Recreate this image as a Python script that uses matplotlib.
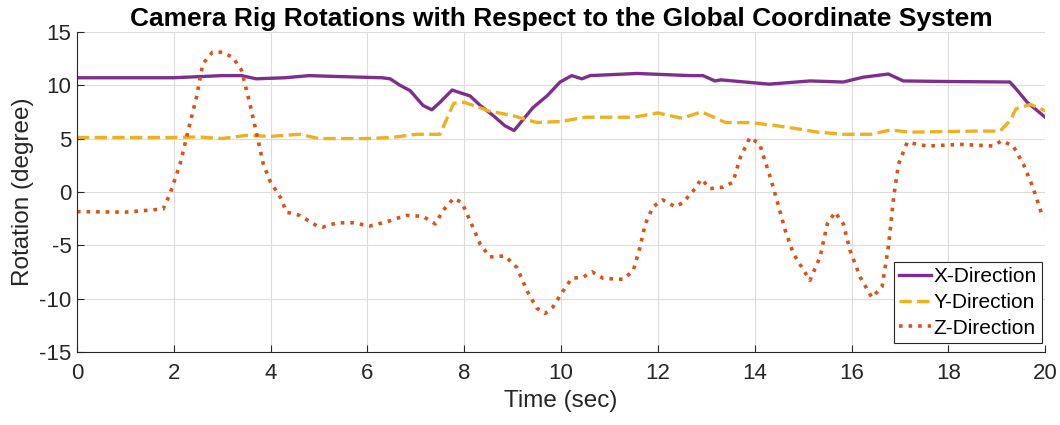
import matplotlib.pyplot as plt
import numpy as np

plt.rcParams['font.family'] = ['Liberation Sans', 'DejaVu Sans']
plt.rcParams['axes.unicode_minus'] = False

# values
x_t = [0, 1, 2, 2.5, 3.0, 3.4, 3.7, 4.3, 4.8, 5.5, 6.3, 6.47, 6.67, 6.88, 7.15, 7.33,
       7.5, 7.75, 7.91, 8.12, 8.33, 8.6, 8.84, 9.03, 9.22, 9.42, 9.71, 9.98, 10.22,
       10.43, 10.6, 11.57, 12.67, 12.93, 13.18, 13.3, 14.3, 15.14, 15.83, 16.24,
       16.76, 17.07, 17.9, 19.27, 19.4, 19.63, 20.0]
x_rot = [10.7, 10.7, 10.7, 10.8, 10.9, 10.9, 10.6, 10.7, 10.9, 10.8, 10.7, 10.6, 10.0,
         9.5, 8.1, 7.7, 8.4, 9.55, 9.3, 9.0, 8.1, 7.15, 6.2, 5.75, 6.8, 7.9, 9.0, 10.3,
         10.9, 10.6, 10.9, 11.1, 10.9, 10.9, 10.4, 10.5, 10.1, 10.4, 10.3, 10.75,
         11.05, 10.4, 10.35, 10.3, 9.65, 8.4, 7.0]

y_t = [0, 1, 2, 2.5, 3.0, 3.5, 4.0, 4.6, 5.0, 6.0, 6.5, 7.0, 7.5, 7.78, 8.0, 8.5, 9.0,
       9.5, 10.0, 10.5, 11.5, 12.0, 12.5, 12.9, 13.08, 13.4, 13.9, 14.46, 14.9, 15.3,
       15.83, 16.4, 16.8, 17.2, 18.6, 19.07, 19.28, 19.4, 19.7, 20.0]
y_rot = [5.1, 5.1, 5.1, 5.15, 5.0, 5.3, 5.2, 5.4, 5.0, 5.0, 5.1, 5.4, 5.4, 8.3, 8.4,
         7.6, 7.15, 6.5, 6.6, 7.0, 7.0, 7.4, 6.9, 7.5, 7.15, 6.5, 6.5, 6.2, 5.9, 5.6,
         5.4, 5.4, 5.8, 5.6, 5.7, 5.7, 6.7, 7.8, 8.2, 7.6]

z_t = [0, 1.0, 1.78, 1.92, 2.13, 2.3, 2.47, 2.6, 2.8, 3.0, 3.22, 3.4, 3.57, 3.71, 3.85,
       3.99, 4.2, 4.33, 4.6, 4.96, 5.08, 5.37, 5.7, 6.05, 6.4, 6.8, 7.15, 7.4, 7.57,
       7.78, 7.95, 8.12, 8.33, 8.53, 8.84, 9.09, 9.3, 9.5, 9.67, 9.83, 10.04, 10.22,
       10.45, 10.64, 10.87, 11.28, 11.49, 11.63, 11.74, 11.9, 12.1, 12.36, 12.52,
       12.73, 12.9, 13.08, 13.35, 13.55, 13.7, 13.9, 14.1, 14.3, 14.46, 14.63, 14.8,
       15.14, 15.35, 15.5, 15.66, 15.83, 15.97, 16.18, 16.42, 16.63, 16.76, 16.87,
       16.97, 17.15, 17.56, 18.25, 18.93, 19.1, 19.34, 19.55, 19.75, 19.93, 20.0]
z_rot = [-1.85, -1.9, -1.6, -0.2, 2.6, 5.8, 8.9, 12.0, 13.1, 13.1, 12.6, 11.4, 8.3, 5.5,
         2.6, 1.0, -0.5, -1.9, -2.2, -3.2, -3.3, -2.9, -2.9, -3.2, -2.8, -2.2, -2.3,
         -3.0, -1.7, -0.6, -1.0, -2.7, -4.9, -6.1, -6.0, -7.1, -9.3, -10.9, -11.4,
         -10.8, -9.3, -8.1, -8.0, -7.5, -8.1, -8.2, -7.4, -5.2, -3.0, -1.4, -0.75,
         -1.4, -1.0, 0.1, 1.2, 0.3, 0.45, 0.9, 3.2, 5.1, 4.5, 1.7, -0.8, -3.6, -5.8,
         -8.3, -6.1, -3.0, -1.9, -3.0, -5.5, -8.0, -9.9, -8.9, -5.2, -0.5, 2.6, 4.65,
         4.3, 4.45, 4.3, 4.8, 4.3, 2.6, 0.4, -2.1, -2.3]

fig, ax = plt.subplots(figsize=(10.6, 4.25), dpi=100)
fig.subplots_adjust(left=0.0726, right=0.986, top=0.925, bottom=0.172)

ax.plot(x_t, x_rot, "-", color="#7E2F8E", lw=2.4, label="X-Direction")
ax.plot(y_t, y_rot, "--", color="#EDB120", lw=2.4, label="Y-Direction")
ax.plot(z_t, z_rot, ":", color="#D95319", lw=2.6, label="Z-Direction")

ax.set_xlim(0, 20)
ax.set_ylim(-15, 15)
ax.set_xticks(np.arange(0, 21, 2))
ax.set_yticks(np.arange(-15, 16, 5))
ax.grid(True, color="#dcdcdc", lw=0.8)
ax.set_axisbelow(True)
for s in ["top", "right"]:
    ax.spines[s].set_visible(False)
ax.spines["left"].set_color("#262626")
ax.spines["bottom"].set_color("#262626")
ax.tick_params(direction="in", length=5, labelsize=16, colors="#262626", pad=4)
ax.tick_params(axis="x", pad=8)

ax.set_xlabel("Time (sec)", fontsize=17.5, color="#262626", labelpad=4)
ax.set_ylabel("Rotation (degree)", fontsize=17.5, color="#262626", labelpad=4)
ax.set_title("Camera Rig Rotations with Respect to the Global Coordinate System",
             fontsize=19, fontweight="bold", pad=4)

leg = ax.legend(loc="lower right", bbox_to_anchor=(0.997, 0.028), borderaxespad=0,
                fontsize=15, fancybox=False, framealpha=1, edgecolor="#262626",
                handlelength=1.5, borderpad=0.25, labelspacing=0.32, handletextpad=0.15)
leg.get_frame().set_linewidth(0.8)

fig.savefig("out.png")
